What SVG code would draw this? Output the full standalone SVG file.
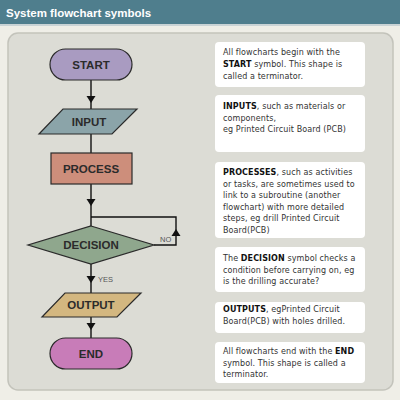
<svg xmlns="http://www.w3.org/2000/svg" width="400" height="400" viewBox="0 0 400 400">
<defs>
<path id="ahd" d="M-4.5,-7 L4.5,-7 L0,0 Z" fill="#111"/>
<style>
.lbl{font-family:"Liberation Sans",Arial,sans-serif;font-weight:bold;font-size:11.5px;fill:#2b2b2b;text-anchor:middle}
.shape{stroke:#2a2a2a;stroke-width:1.2}
.conn{stroke:#111;stroke-width:1.4;fill:none}
.box{fill:#ffffff}
.txt{font-family:"DejaVu Sans","Liberation Sans",sans-serif;font-size:8px;fill:#333;letter-spacing:0.1px}
.txt tspan.b{font-weight:bold;fill:#111}
.small{font-family:"Liberation Sans",Arial,sans-serif;font-size:7.5px;fill:#555}
</style>
</defs>
<rect x="0" y="0" width="400" height="400" fill="#efeee7"/>
<rect x="0" y="0" width="400" height="24" fill="#4f7e8d"/>
<rect x="0" y="24" width="400" height="2" fill="#c9d3d5"/>
<text x="6" y="17" font-family="Liberation Sans,Arial,sans-serif" font-weight="bold" font-size="11.5" fill="#ffffff">System flowchart symbols</text>
<rect x="8" y="33" width="385" height="357" rx="10" fill="#dcdcd5" stroke="#c3c3bb" stroke-width="1.5"/>

<g id="connectors">
<line class="conn" x1="91" y1="80" x2="91" y2="109"/>
<line class="conn" x1="91" y1="134" x2="91" y2="153"/>
<line class="conn" x1="91" y1="184" x2="91" y2="226"/>
<polyline class="conn" points="154,245 176,245 176,217 91,217"/>
<line class="conn" x1="91" y1="264" x2="91" y2="293"/>
<line class="conn" x1="91" y1="317" x2="91" y2="338"/>
<use href="#ahd" transform="translate(91,103)"/>
<use href="#ahd" transform="translate(91,206)"/>
<use href="#ahd" transform="translate(176,229) rotate(180)"/>
<use href="#ahd" transform="translate(91,283)"/>
<use href="#ahd" transform="translate(91,330)"/>
<text class="small" x="160" y="241.5">NO</text>
<text class="small" x="98" y="281.5">YES</text>
</g>

<g id="start">
<rect class="shape" x="50" y="49" width="82" height="31" rx="15.5" fill="#a99bc1"/>
<text class="lbl" x="91" y="69">START</text>
</g>
<g id="input">
<polygon class="shape" points="63,109 137,109 112,134 39,134" fill="#8ba4a9"/>
<text class="lbl" x="89" y="126">INPUT</text>
</g>
<g id="process">
<rect class="shape" x="51" y="153" width="81" height="31" fill="#cd8e7b"/>
<text class="lbl" x="91" y="173">PROCESS</text>
</g>
<g id="decision">
<polygon class="shape" points="91,226 154,245 91,264 28,245" fill="#8fa78d"/>
<text class="lbl" x="91" y="249">DECISION</text>
</g>
<g id="output">
<polygon class="shape" points="65,293 141,293 117,317 42,317" fill="#d3b780"/>
<text class="lbl" x="91" y="309">OUTPUT</text>
</g>
<g id="end">
<rect class="shape" x="50" y="338" width="82" height="31" rx="15.5" fill="#c87cb8"/>
<text class="lbl" x="91" y="358">END</text>
</g>

<g id="note-start">
<rect class="box" x="215" y="42" width="150" height="45" rx="4"/>
<text class="txt" x="223" y="55">All flowcharts begin with the</text>
<text class="txt" x="223" y="67"><tspan class="b">START</tspan> symbol. This shape is</text>
<text class="txt" x="223" y="79">called a terminator.</text>
</g>
<g id="note-input">
<rect class="box" x="215" y="95" width="150" height="57" rx="4"/>
<text class="txt" x="223" y="109"><tspan class="b">INPUTS</tspan>, such as materials or</text>
<text class="txt" x="223" y="121">components,</text>
<text class="txt" x="223" y="132">eg Printed Circuit Board (PCB)</text>
</g>
<g id="note-process">
<rect class="box" x="215" y="162" width="150" height="76" rx="4"/>
<text class="txt" x="223" y="175"><tspan class="b">PROCESSES</tspan>, such as activities</text>
<text class="txt" x="223" y="186.5">or tasks, are sometimes used to</text>
<text class="txt" x="223" y="198">link to a subroutine (another</text>
<text class="txt" x="223" y="209.5">flowchart) with more detailed</text>
<text class="txt" x="223" y="221">steps, eg drill Printed Circuit</text>
<text class="txt" x="223" y="232.5">Board(PCB)</text>
</g>
<g id="note-decision">
<rect class="box" x="215" y="247" width="150" height="45" rx="4"/>
<text class="txt" x="223" y="261">The <tspan class="b">DECISION</tspan> symbol checks a</text>
<text class="txt" x="223" y="272.5">condition before carrying on, eg</text>
<text class="txt" x="223" y="284">is the drilling accurate?</text>
</g>
<g id="note-output">
<rect class="box" x="215" y="302" width="150" height="31" rx="4"/>
<text class="txt" x="223" y="312"><tspan class="b">OUTPUTS</tspan>, egPrinted Circuit</text>
<text class="txt" x="223" y="324">Board(PCB) with holes drilled.</text>
</g>
<g id="note-end">
<rect class="box" x="215" y="342" width="150" height="41" rx="4"/>
<text class="txt" x="223" y="354">All flowcharts end with the <tspan class="b">END</tspan></text>
<text class="txt" x="223" y="366">symbol. This shape is called a</text>
<text class="txt" x="223" y="377">terminator.</text>
</g>
</svg>
